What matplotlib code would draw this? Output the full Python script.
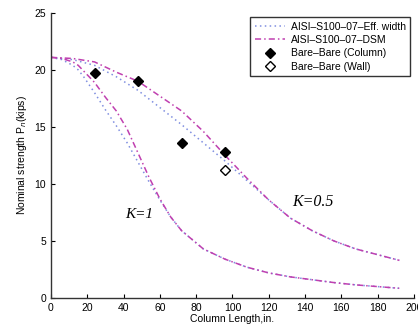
import numpy as np
import matplotlib.pyplot as plt

plt.rcParams['font.family'] = ['Liberation Sans', 'DejaVu Sans']

# column length (in.) and nominal strength (kips), K = 1
L_k1 = [0, 6, 12, 15, 18, 24, 30, 36, 42, 48, 54, 60, 66, 72, 84, 96,
        108, 120, 132, 144, 156, 168, 180, 192]
dsm_k1 = [21.1, 21.0, 20.7, 20.4, 19.9, 18.9, 17.6, 16.4, 14.8, 12.7, 10.6, 8.7,
          7.1, 5.9, 4.3, 3.4, 2.7, 2.2, 1.85, 1.6, 1.35, 1.15, 1.0, 0.85]
ew_k1 = [21.1, 20.9, 20.4, 20.0, 19.4, 18.0, 16.5, 15.1, 13.6, 11.9, 10.2, 8.6,
         7.1, 5.9, 4.3, 3.4, 2.7, 2.2, 1.85, 1.6, 1.35, 1.15, 1.0, 0.85]

# K = 0.5
L_k05 = [0, 12, 24, 36, 48, 60, 72, 84, 96, 108, 120, 132, 144, 156, 168, 180, 192]
dsm_k05 = [21.1, 21.0, 20.7, 19.8, 19.0, 17.7, 16.4, 14.6, 12.5, 10.5, 8.6, 7.0,
           5.9, 5.0, 4.3, 3.8, 3.3]
ew_k05 = [21.1, 20.9, 20.4, 19.4, 18.2, 16.7, 15.2, 13.6, 12.0, 10.3, 8.6, 7.0,
          5.9, 5.0, 4.3, 3.8, 3.3]

# test results
L_col = [24, 48, 72, 96]
P_col = [19.7, 19.0, 13.6, 12.8]
L_wall = [96]
P_wall = [11.2]

ew_color = '#7f8ee0'
dsm_color = '#c040b0'
ew_dash = (1, 2.2)
dsm_dash = (4, 2, 1, 2)

fig = plt.figure(figsize=(4.18, 3.30), dpi=100)
ax = fig.add_axes([0.122, 0.097, 0.868, 0.864])

ax.plot(L_k05, ew_k05, color=ew_color, lw=1.1, dashes=ew_dash,
        label='AISI\u2013S100\u201307\u2013Eff. width')
ax.plot(L_k05, dsm_k05, color=dsm_color, lw=1.1, dashes=dsm_dash,
        label='AISI\u2013S100\u201307\u2013DSM')
ax.plot(L_k1, ew_k1, color=ew_color, lw=1.1, dashes=ew_dash)
ax.plot(L_k1, dsm_k1, color=dsm_color, lw=1.1, dashes=dsm_dash)
ax.plot(L_col, P_col, 'D', color='k', ms=4.8, ls='none', label='Bare\u2013Bare (Column)')
ax.plot(L_wall, P_wall, 'D', mfc='white', mec='k', mew=1.0, ms=4.8, ls='none',
        label='Bare\u2013Bare (Wall)')

ax.text(41, 7.3, 'K=1', family='Liberation Serif', style='italic', fontsize=11, va='center')
ax.text(133, 8.4, 'K=0.5', family='Liberation Serif', style='italic', fontsize=11.5, va='center')

ax.set_xlim(0, 200)
ax.set_ylim(0, 25)
ax.set_xticks(np.arange(0, 201, 20))
ax.set_yticks(np.arange(0, 26, 5))
ax.tick_params(direction='in', labelsize=7.5, length=3, width=0.8)
for s in ['top', 'right']:
    ax.spines[s].set_visible(False)
for s in ['left', 'bottom']:
    ax.spines[s].set_linewidth(1.0)
    ax.spines[s].set_color('#333333')

ax.set_xlabel('Column Length,in.', fontsize=7.5, labelpad=1)
ax.set_ylabel('Nominal strength P$_n$(kips)', fontsize=7.5, labelpad=4)

leg = ax.legend(loc='upper right', bbox_to_anchor=(0.99, 0.986), fontsize=7.5,
                fancybox=False, frameon=True, edgecolor='k', handlelength=2.9,
                borderpad=0.45, labelspacing=0.32, handletextpad=0.55, borderaxespad=0)
leg.get_frame().set_linewidth(1.0)

fig.savefig('out.png', dpi=100)
